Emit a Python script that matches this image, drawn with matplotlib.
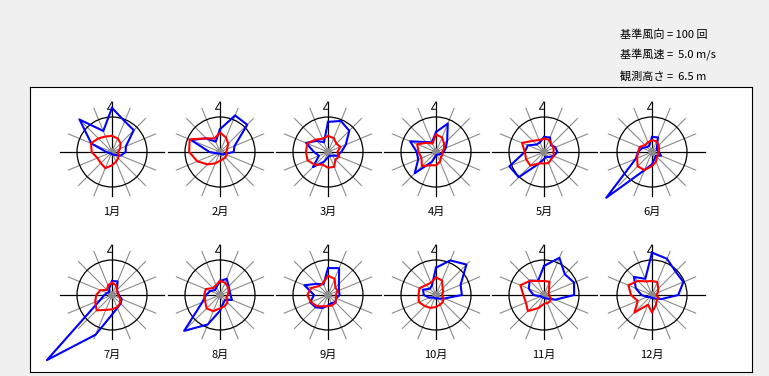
"""
Monthly wind roses: wind direction frequency (blue) and mean wind speed (red).
"""
import numpy as np
import matplotlib
matplotlib.use("Agg")
import matplotlib.pyplot as plt
from matplotlib.patches import Circle

plt.rcParams['font.family'] = ['Noto Sans CJK JP', 'DejaVu Sans']

W, H = 769, 376
R_PX = 35  # radius of the reference circle in pixels

REF_FREQ = 100   # 基準風向 (回)
REF_SPEED = 5.0  # 基準風速 (m/s)
HEIGHT = 6.5     # 観測高さ (m)

directions = ['N', 'NNE', 'NE', 'ENE', 'E', 'ESE', 'SE', 'SSE',
              'S', 'SSW', 'SW', 'WSW', 'W', 'WNW', 'NW', 'NNW']
months = ['1月', '2月', '3月', '4月', '5月', '6月',
          '7月', '8月', '9月', '10月', '11月', '12月']

# wind direction frequency (counts) per direction
freq_1 = [126, 95, 88, 43, 39, 27, 12, 8, 6, 5, 5, 8, 16, 64, 131, 65]
freq_2 = [65, 113, 110, 45, 39, 15, 10, 6, 5, 5, 6, 10, 30, 90, 55, 32]
freq_3 = [86, 96, 86, 55, 38, 28, 15, 12, 15, 30, 61, 28, 40, 68, 45, 30]
freq_4 = [57, 88, 45, 30, 22, 15, 10, 8, 10, 30, 86, 55, 55, 80, 40, 30]
freq_5 = [43, 45, 28, 35, 38, 30, 20, 15, 20, 35, 102, 107, 55, 50, 30, 30]
freq_6 = [43, 45, 20, 15, 20, 28, 15, 20, 35, 56, 185, 50, 40, 30, 20, 20]
freq_7 = [40, 42, 20, 18, 20, 30, 35, 40, 56, 123, 263, 36, 22, 15, 12, 20]
freq_8 = [40, 50, 35, 30, 30, 37, 20, 25, 45, 91, 145, 55, 40, 30, 20, 25]
freq_9 = [77, 83, 44, 34, 33, 25, 30, 25, 30, 40, 50, 55, 40, 73, 45, 33]
freq_10 = [78, 107, 123, 76, 74, 26, 15, 10, 10, 10, 10, 20, 35, 40, 25, 30]
freq_11 = [83, 115, 84, 93, 86, 35, 15, 10, 8, 8, 8, 10, 30, 47, 58, 44]
freq_12 = [121, 112, 95, 97, 75, 30, 15, 10, 8, 8, 8, 15, 30, 50, 73, 50]

# mean wind speed (m/s) per direction
speed_1 = [2.3, 2.1, 1.75, 1.25, 0.85, 1.0, 1.25, 1.5, 1.9, 2.5, 2.25, 2.25, 2.9, 3.25, 2.75, 2.4]
speed_2 = [2.75, 2.25, 1.65, 1.1, 0.9, 1.0, 1.1, 1.1, 1.25, 1.75, 2.5, 3.5, 4.4, 4.7, 2.75, 2.1]
speed_3 = [2.3, 2.15, 1.7, 1.9, 1.35, 1.75, 1.5, 2.3, 2.25, 1.95, 2.6, 3.15, 3.15, 3.2, 2.5, 2.05]
speed_4 = [2.5, 2.25, 1.65, 1.25, 0.9, 1.0, 1.0, 1.5, 1.9, 2.05, 2.85, 2.25, 2.5, 2.9, 1.85, 1.3]
speed_5 = [1.9, 1.9, 1.5, 1.5, 1.35, 1.5, 1.45, 1.7, 1.65, 1.75, 2.75, 2.75, 2.75, 3.4, 2.25, 1.85]
speed_6 = [1.7, 1.65, 1.35, 1.1, 0.9, 1.0, 1.0, 1.5, 2.0, 2.8, 2.9, 2.3, 2.0, 1.9, 1.4, 1.5]
speed_7 = [1.75, 1.5, 1.0, 0.85, 0.85, 1.25, 1.65, 1.9, 2.05, 2.3, 3.1, 2.6, 2.25, 1.8, 1.0, 1.5]
speed_8 = [2.0, 1.9, 1.6, 1.35, 1.1, 1.0, 1.5, 1.75, 1.9, 2.5, 2.7, 2.3, 2.25, 2.2, 1.4, 1.5]
speed_9 = [2.75, 2.5, 1.5, 1.5, 1.1, 1.25, 1.5, 1.6, 1.6, 1.75, 2.25, 2.65, 2.95, 2.6, 1.8, 1.85]
speed_10 = [2.5, 2.25, 1.35, 1.1, 0.85, 1.15, 1.4, 1.5, 1.7, 2.0, 2.25, 2.65, 2.5, 2.55, 2.0, 1.9]
speed_11 = [2.0, 2.05, 1.0, 0.75, 0.75, 1.0, 1.25, 1.25, 1.25, 2.0, 3.25, 2.8, 2.95, 3.65, 2.85, 2.15]
speed_12 = [2.0, 2.0, 1.25, 0.9, 0.65, 1.0, 1.0, 1.5, 2.5, 1.5, 3.55, 2.2, 3.0, 3.65, 2.85, 2.1]

freq_all = [freq_1, freq_2, freq_3, freq_4, freq_5, freq_6,
            freq_7, freq_8, freq_9, freq_10, freq_11, freq_12]
speed_all = [speed_1, speed_2, speed_3, speed_4, speed_5, speed_6,
             speed_7, speed_8, speed_9, speed_10, speed_11, speed_12]

theta = np.deg2rad(np.arange(len(directions)) * 22.5)  # clockwise from north

fig = plt.figure(figsize=(W / 100, H / 100), dpi=100, facecolor='#f0f0f0')

# white panel holding the roses
panel = fig.add_axes([30 / W, 4 / H, 722 / W, 285 / H])
panel.set_facecolor('white')
panel.set_xticks([])
panel.set_yticks([])
for sp in panel.spines.values():
    sp.set_color('black')
    sp.set_linewidth(0.8)

# header text
fs = 8
fig.text(620 / W, 1 - 35 / H, f'基準風向 = {REF_FREQ} 回', fontsize=fs, va='center')
fig.text(620 / W, 1 - 55 / H, f'基準風速 =  {REF_SPEED:.1f} m/s', fontsize=fs, va='center')
fig.text(620 / W, 1 - 76 / H, f'観測高さ =  {HEIGHT} m', fontsize=fs, va='center')


def close(values):
    v = np.asarray(values, dtype=float)
    return np.append(v, v[0])


ax_px = 130
lim = ax_px / 2 / R_PX
for i, month in enumerate(months):
    col, row = i % 6, i // 6
    cx = 112 + 108 * col
    cy = 152 + 143 * row
    ax = fig.add_axes([(cx - ax_px / 2) / W, (H - cy - ax_px / 2) / H, ax_px / W, ax_px / H])
    ax.set_xlim(-lim, lim)
    ax.set_ylim(-lim, lim)
    ax.axis('off')
    ax.patch.set_alpha(0)

    # gray direction lines
    for k, t in enumerate(theta):
        if k % 4 == 0:
            continue
        ax.plot([0, 1.35 * np.sin(t)], [0, 1.35 * np.cos(t)], color='#8c8c8c', lw=0.8, zorder=1)
    # black cross, north mark and reference circle
    ax.plot([-1.5, 1.5], [0, 0], color='black', lw=0.9, zorder=2)
    ax.plot([0, 0], [-1.25, 1.43], color='black', lw=0.9, zorder=2)
    ax.plot([0, -0.13, 0], [1.43, 1.22, 1.22], color='black', lw=0.7, zorder=2)
    ax.add_patch(Circle((0, 0), 1.0, fill=False, ec='black', lw=0.9, zorder=2))
    ax.add_patch(Circle((0, 0), 0.09, color='#8c8c8c', zorder=2))

    f = close(freq_all[i]) / REF_FREQ
    s = close(speed_all[i]) / REF_SPEED
    th = np.append(theta, theta[0])
    ax.plot(f * np.sin(th), f * np.cos(th), color='#0000ff', lw=1.5, zorder=3, clip_on=False)
    ax.plot(s * np.sin(th), s * np.cos(th), color='#ff0000', lw=1.5, zorder=4, clip_on=False)

    ax.text(0, -60 / R_PX, month, ha='center', va='center', fontsize=8, zorder=5)

fig.savefig('out.png', dpi=100, facecolor=fig.get_facecolor())
